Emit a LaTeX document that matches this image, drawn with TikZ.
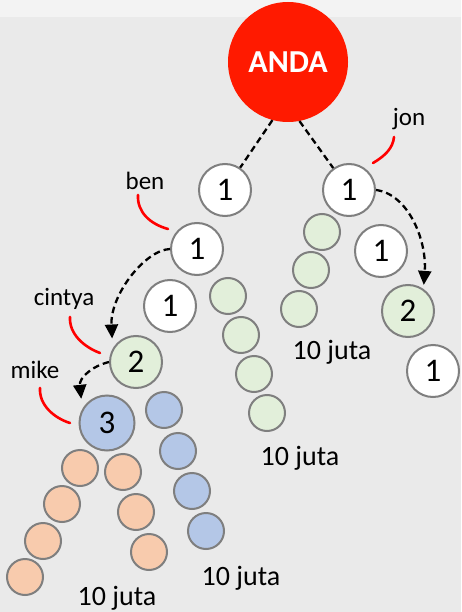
\documentclass[tikz,border=0pt]{standalone}
\usepackage{fontspec}
\setmainfont{Carlito}
\usetikzlibrary{arrows.meta}
\definecolor{bg}{HTML}{EAEAEA}
\definecolor{bgtop}{HTML}{F3F3F3}
\definecolor{andared}{HTML}{FF1A00}
\definecolor{ring}{HTML}{7F7F7F}
\definecolor{gfill}{HTML}{E2EFDA}
\definecolor{bfill}{HTML}{B4C7E7}
\definecolor{ofill}{HTML}{F8CBAD}
\definecolor{redline}{HTML}{FF0000}
\begin{document}
\begin{tikzpicture}[x=1pt,y=-1pt,
  big/.style={circle,draw=ring,line width=2pt,minimum size=52pt,inner sep=0pt,font=\fontsize{33}{33}\selectfont},
  small/.style={circle,draw=ring,line width=2pt,minimum size=36pt,inner sep=0pt},
  wnode/.style={big,fill=white},
  gbig/.style={big,fill=gfill},
  bbig/.style={big,fill=bfill},
  gsm/.style={small,fill=gfill},
  bsm/.style={small,fill=bfill},
  osm/.style={small,fill=ofill},
  conn/.style={draw=black,line width=2.3pt,dash pattern=on 6.5pt off 4pt},
  arr/.style={conn,-{Triangle[length=14pt,width=13pt]}},
  tag/.style={draw=redline,line width=2.6pt,line cap=round},
  lbl/.style={font=\fontsize{25}{25}\selectfont,inner sep=0pt},
  juta/.style={font=\fontsize{28}{28}\selectfont,inner sep=0pt}]
% background
\fill[bg] (0,0) rectangle (461,612);
\fill[bgtop] (0,0) rectangle (461,17);
\useasboundingbox (0,0) rectangle (461,612);

% main node
\node[circle,fill=andared,minimum size=120pt,inner sep=0pt,text=white,font=\fontsize{32}{32}\selectfont\bfseries] (anda) at (288,62) {ANDA};

% first level
\node[wnode] (ben) at (225,190) {1};
\node[wnode] (jon) at (349,190) {1};
\draw[conn] (anda.-105) -- (ben);
\draw[conn] (anda.-79) -- (jon);

% ben branch
\node[wnode] (b1) at (197,249) {1};
\node[wnode] (b2) at (170,306) {1};
\node[gsm] (bg1) at (228,296) {};
\node[gsm] (bg2) at (241,335) {};
\node[gsm] (bg3) at (254,374) {};
\node[gsm] (bg4) at (267,413) {};
\node[juta] (jutaA) at (300,458) {10 juta};

% cintya
\node[gbig] (cin) at (136,362) {2};
\draw[arr,shorten >=10pt] (b1.west) .. controls (145,250) and (110,295) .. (cin.150);

% mike
\node[bbig,minimum size=55pt] (mike) at (107,423) {3};
\draw[arr,shorten >=10pt] (cin.west) .. controls (92,366) and (79,378) .. (mike.150);
\node[bsm] (mb1) at (164,410) {};
\node[bsm] (mb2) at (178,451) {};
\node[bsm] (mb3) at (192,491) {};
\node[bsm] (mb4) at (206,531) {};
\node[juta] (jutaB) at (241,578) {10 juta};
\node[osm] (mo1) at (80,468) {};
\node[osm] (mo2) at (62,504) {};
\node[osm] (mo3) at (43,541) {};
\node[osm] (mo4) at (25,577) {};
\node[osm] (mo5) at (123,472) {};
\node[osm] (mo6) at (136,512) {};
\node[osm] (mo7) at (149,552) {};
\node[juta] (jutaC) at (117,598) {10 juta};

% jon branch
\node[gsm] (jg1) at (322,232) {};
\node[gsm] (jg2) at (311,270) {};
\node[gsm] (jg3) at (299,309) {};
\node[juta] (jutaD) at (332,352) {10 juta};
\node[wnode] (j1) at (381,251) {1};
\node[gbig] (j2) at (408,311) {2};
\node[wnode] (j3) at (433,371) {1};
\draw[arr,shorten >=4pt] (jon.east) .. controls (408,194) and (427,240) .. (j2.55);

% labels with red tags
\node[lbl] (tben) at (145,181) {ben};
\draw[tag] (138,195) .. controls (137,212) and (150,224) .. (168,229);
\node[lbl] (tjon) at (409,119) {jon};
\draw[tag] (394,137) .. controls (393,148) and (385,156) .. (373,163);
\node[lbl] (tcin) at (64,299) {cintya};
\draw[tag] (70,317) .. controls (69,334) and (84,347) .. (100,353);
\node[lbl] (tmike) at (35,370) {mike};
\draw[tag] (40,388) .. controls (39,405) and (54,418) .. (70,423);
\end{tikzpicture}
\end{document}
